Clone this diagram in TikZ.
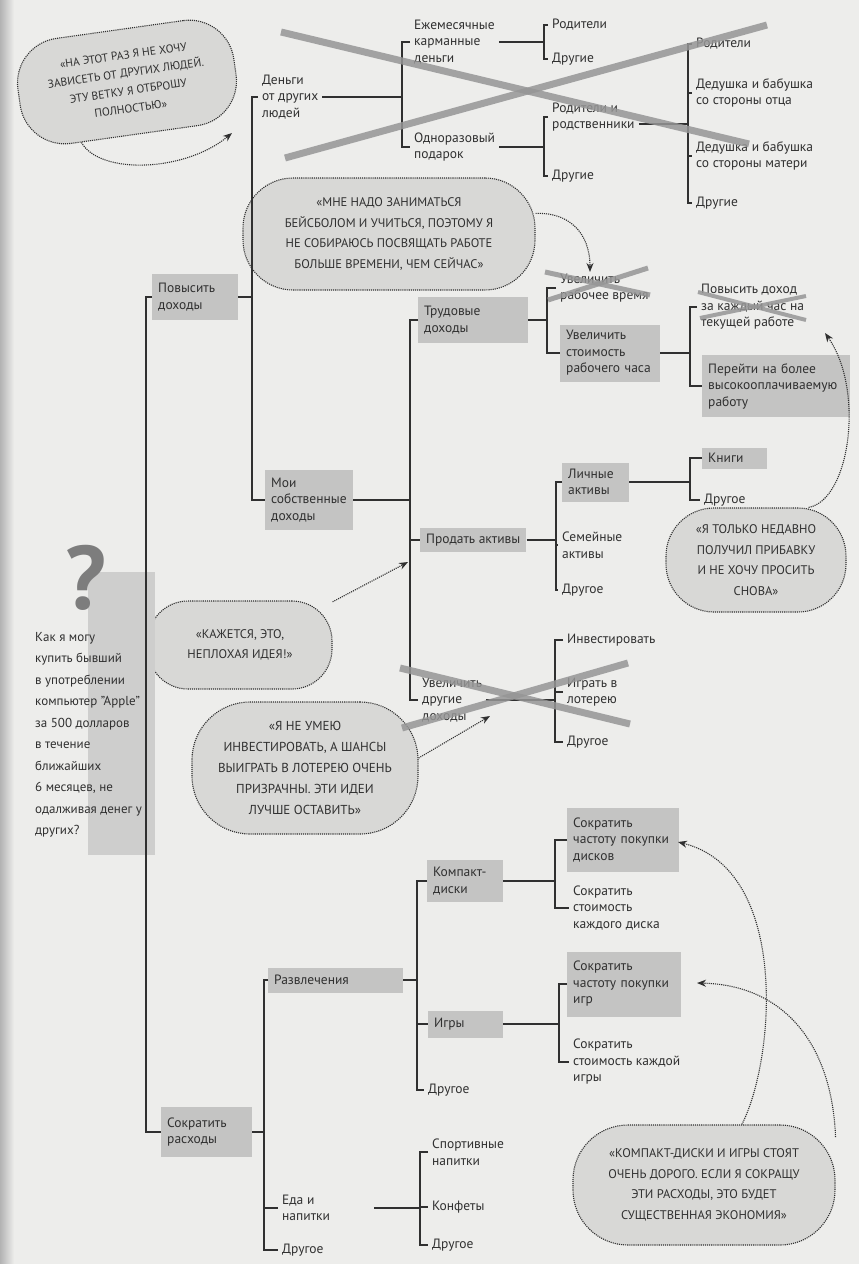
\documentclass[tikz,border=0pt]{standalone}
\usepackage{fontspec}
\setmainfont{PT Sans}
\usetikzlibrary{arrows.meta, calc}

\definecolor{paper}{RGB}{237,237,235}
\definecolor{ink}{RGB}{48,48,48}
\definecolor{boxgray}{RGB}{196,196,195}
\definecolor{bubblegray}{RGB}{216,216,214}
\definecolor{strikegray}{RGB}{150,150,150}
\definecolor{rootgray}{RGB}{206,206,205}
\definecolor{markgray}{RGB}{125,125,125}

\newcommand{\treefont}{\fontsize{13.5}{16.5}\selectfont}
\newcommand{\thoughtfont}{\fontsize{12.5}{20.5}\selectfont}

\begin{document}
\begin{tikzpicture}[x=1pt, y=-1pt,
        leaf/.style={anchor=west, align=left, inner xsep=4pt, inner ysep=2pt, text=ink, font=\treefont},
        branch/.style={leaf, fill=boxgray, inner xsep=6pt, inner ysep=4pt},
        link/.style={draw=ink, line width=1.5pt},
        thought/.style={draw=ink, densely dotted, line width=1.1pt, fill=bubblegray, align=center, text=ink, font=\thoughtfont},
        remark/.style={draw=ink, densely dotted, line width=1.1pt, -{Stealth[length=9pt,width=7pt]}},
        strike/.style={draw=strikegray, line width=7pt, opacity=0.85}
    ]

    % Page
    \useasboundingbox (0,0) rectangle (859,1264);
    \fill[paper] (0,0) rectangle (859,1264);
    \shade[left color=gray!60, right color=paper] (0,0) rectangle (14,1264);

    % Thought bubbles (under the tree)
    \node[thought, rotate=8, minimum width=218pt, minimum height=106pt, rounded corners=45pt, font=\fontsize{11.5}{18}\selectfont] (bubble_alone) at (127,82) {«НА ЭТОТ РАЗ Я НЕ ХОЧУ\\ЗАВИСЕТЬ ОТ ДРУГИХ ЛЮДЕЙ.\\ЭТУ ВЕТКУ Я ОТБРОШУ\\ПОЛНОСТЬЮ»};
    \node[thought, minimum width=292pt, minimum height=112pt, rounded corners=50pt] (bubble_time) at (389,234) {«МНЕ НАДО ЗАНИМАТЬСЯ\\БЕЙСБОЛОМ И УЧИТЬСЯ, ПОЭТОМУ Я\\НЕ СОБИРАЮСЬ ПОСВЯЩАТЬ РАБОТЕ\\БОЛЬШЕ ВРЕМЕНИ, ЧЕМ СЕЙЧАС»};
    \node[thought, minimum width=180pt, minimum height=104pt, rounded corners=48pt] (bubble_raise) at (756,560) {«Я ТОЛЬКО НЕДАВНО\\ПОЛУЧИЛ ПРИБАВКУ\\И НЕ ХОЧУ ПРОСИТЬ\\СНОВА»};
    \node[thought, minimum width=184pt, minimum height=88pt, rounded corners=40pt] (bubble_idea) at (240,645) {«КАЖЕТСЯ, ЭТО,\\НЕПЛОХАЯ ИДЕЯ!»};
    \node[thought, minimum width=226pt, minimum height=132pt, rounded corners=58pt, font=\fontsize{13}{21}\selectfont] (bubble_invest) at (305,768) {«Я НЕ УМЕЮ\\ИНВЕСТИРОВАТЬ, А ШАНСЫ\\ВЫИГРАТЬ В ЛОТЕРЕЮ ОЧЕНЬ\\ПРИЗРАЧНЫ. ЭТИ ИДЕИ\\ЛУЧШЕ ОСТАВИТЬ»};
    \node[thought, minimum width=262pt, minimum height=120pt, rounded corners=55pt] (bubble_save) at (704,1185) {«КОМПАКТ-ДИСКИ И ИГРЫ СТОЯТ\\ОЧЕНЬ ДОРОГО. ЕСЛИ Я СОКРАЩУ\\ЭТИ РАСХОДЫ, ЭТО БУДЕТ\\СУЩЕСТВЕННАЯ ЭКОНОМИЯ»};

    % Spines of the brackets
    \coordinate (trunk) at (146,0);
    \coordinate (sp_raise) at (252,0);
    \coordinate (sp_other) at (402,0);
    \coordinate (sp_monthly) at (544,0);
    \coordinate (sp_relatives) at (688,0);
    \coordinate (sp_own) at (410,0);
    \coordinate (sp_labour) at (547,0);
    \coordinate (sp_rate) at (690,0);
    \coordinate (sp_sell) at (556,0);
    \coordinate (sp_personal) at (690,0);
    \coordinate (sp_extra) at (555,0);
    \coordinate (sp_cut) at (264,0);
    \coordinate (sp_fun) at (417,0);
    \coordinate (sp_cds) at (555,0);
    \coordinate (sp_games) at (559,0);
    \coordinate (sp_food) at (420,0);

    % Root: the question
    \fill[rootgray] (88,572) rectangle (155,855);
    \node[font=\fontsize{90}{90}\selectfont\bfseries, text=markgray, inner sep=0pt] (question_mark) at (86,578) {?};
    \node[leaf, font=\fontsize{13}{21.5}\selectfont] (question) at (31,735) {Как я могу\\купить бывший\\в употреблении\\компьютер "Apple"\\за 500 долларов\\в течение\\ближайших\\6 месяцев, не\\одалживая денег у\\других?};

    % Level 1
    \node[branch, text width=74pt, minimum height=46pt] (raise_income) at (152,297) {Повысить\\доходы};
    \node[branch, text width=79pt, minimum height=50pt] (cut_costs) at (161,1132) {Сократить\\расходы};
    \draw[link] (raise_income.west) -| (trunk |- cut_costs.west) -- (cut_costs.west);

    % Branch 1: money from other people
    \node[leaf] (other_people) at (258,97) {Деньги\\от других\\людей};
    \node[branch, text width=76pt, minimum height=60pt] (own_income) at (265,500) {Мои\\собственные\\доходы};
    \draw[link] (raise_income.east) -- (raise_income.east -| sp_raise);
    \draw[link] (other_people.west) -| (sp_raise |- own_income.west) -- (own_income.west);

    \node[leaf] (monthly_money) at (410,42) {Ежемесячные\\карманные\\деньги};
    \node[leaf] (one_gift) at (410,147) {Одноразовый\\подарок};
    \draw[link] (other_people.east) -- (other_people.east -| sp_other);
    \draw[link] (monthly_money.west) -| (sp_other |- one_gift.west) -- (one_gift.west);

    \node[leaf] (parents_a) at (548,25) {Родители};
    \node[leaf] (others_a) at (548,59) {Другие};
    \node[leaf] (relatives) at (548,117) {Родители и\\родственники};
    \node[leaf] (others_b) at (548,176) {Другие};
    \draw[link] (monthly_money.east) -- (monthly_money.east -| sp_monthly);
    \draw[link] (parents_a.west) -| (sp_monthly |- others_a.west) -- (others_a.west);
    \draw[link] (one_gift.east) -- (one_gift.east -| sp_monthly);
    \draw[link] (relatives.west) -| (sp_monthly |- others_b.west) -- (others_b.west);

    \node[leaf] (parents_b) at (692,44) {Родители};
    \node[leaf] (grand_father) at (692,93) {Дедушка и бабушка\\со стороны отца};
    \node[leaf] (grand_mother) at (692,156) {Дедушка и бабушка\\со стороны матери};
    \node[leaf] (others_c) at (692,203) {Другие};
    \coordinate (relatives_out) at ([yshift=-7pt]relatives.east);
    \draw[link] (relatives_out) -- (relatives_out -| sp_relatives);
    \draw[link] (parents_b.west) -| (sp_relatives |- others_c.west) -- (others_c.west);
    \draw[link] (sp_relatives |- grand_father.west) -- (grand_father.west);
    \draw[link] (sp_relatives |- grand_mother.west) -- (grand_mother.west);

    % Branch 2: own income
    \node[branch, text width=98pt, minimum height=46pt] (labour_income) at (418,320) {Трудовые\\доходы};
    \node[branch, minimum height=24pt] (sell_assets) at (420,540) {Продать активы};
    \node[leaf] (extra_income) at (418,700) {Увеличить\\другие\\доходы};
    \draw[link] (own_income.east) -- (own_income.east -| sp_own);
    \draw[link] (labour_income.west) -| (sp_own |- extra_income.west) -- (extra_income.west);
    \draw[link] (sp_own |- sell_assets.west) -- (sell_assets.west);

    \node[leaf] (more_hours) at (556,288) {Увеличить\\рабочее время};
    \node[branch, text width=88pt, minimum height=57pt] (hour_rate) at (560,353) {Увеличить\\стоимость\\рабочего часа};
    \draw[link] (labour_income.east) -- (labour_income.east -| sp_labour);
    \draw[link] (more_hours.west) -| (sp_labour |- hour_rate.west) -- (hour_rate.west);

    \node[leaf] (raise_pay) at (697,307) {Повысить доход\\за каждый час на\\текущей работе};
    \node[branch, text width=136pt, minimum height=62pt] (better_job) at (702,386) {Перейти на более\\высокооплачиваемую\\работу};
    \draw[link] (hour_rate.east) -- (hour_rate.east -| sp_rate);
    \draw[link] (raise_pay.west) -| (sp_rate |- better_job.west) -- (better_job.west);

    \node[branch, text width=55pt, minimum height=39pt] (personal_assets) at (562,482) {Личные\\активы};
    \node[leaf] (family_assets) at (558,545) {Семейные\\активы};
    \node[leaf] (other_assets) at (558,590) {Другое};
    \draw[link] (sell_assets.east) -- (sell_assets.east -| sp_sell);
    \draw[link] (personal_assets.west) -| (sp_sell |- other_assets.west) -- (other_assets.west);
    \draw[link] (sp_sell |- family_assets.west) -- (family_assets.west);

    \node[branch, text width=53pt, minimum height=21pt] (books) at (702,458) {Книги};
    \node[leaf] (other_personal) at (700,500) {Другое};
    \draw[link] (personal_assets.east) -- (personal_assets.east -| sp_personal);
    \draw[link] (books.west) -| (sp_personal |- other_personal.west) -- (other_personal.west);

    \node[leaf] (invest) at (563,640) {Инвестировать};
    \node[leaf] (lottery) at (563,692) {Играть в\\лотерею};
    \node[leaf] (other_extra) at (563,742) {Другое};
    \draw[link] (extra_income.east) -- (extra_income.east -| sp_extra);
    \draw[link] (invest.west) -| (sp_extra |- other_extra.west) -- (other_extra.west);
    \draw[link] (sp_extra |- lottery.west) -- (lottery.west);

    % Branch 3: cut costs
    \node[branch, text width=123pt, minimum height=25pt] (fun) at (268,980) {Развлечения};
    \node[leaf] (food) at (278,1208) {Еда и\\напитки};
    \node[leaf] (other_costs) at (278,1250) {Другое};
    \draw[link] (cut_costs.east) -- (cut_costs.east -| sp_cut);
    \draw[link] (fun.west) -| (sp_cut |- other_costs.west) -- (other_costs.west);
    \draw[link] (sp_cut |- food.west) -- (food.west);

    \node[branch, text width=64pt, minimum height=42pt] (compact_discs) at (427,881) {Компакт-\\диски};
    \node[branch, text width=63pt, minimum height=27pt] (games) at (428,1024) {Игры};
    \node[leaf] (other_fun) at (424,1090) {Другое};
    \draw[link] (fun.east) -- (fun.east -| sp_fun);
    \draw[link] (compact_discs.west) -| (sp_fun |- other_fun.west) -- (other_fun.west);
    \draw[link] (sp_fun |- games.west) -- (games.west);

    \node[branch, text width=100pt, minimum height=64pt] (disc_freq) at (567,840) {Сократить\\частоту покупки\\дисков};
    \node[leaf] (disc_cost) at (569,908) {Сократить\\стоимость\\каждого диска};
    \draw[link] (compact_discs.east) -- (compact_discs.east -| sp_cds);
    \draw[link] (disc_freq.west) -| (sp_cds |- disc_cost.west) -- (disc_cost.west);

    \node[branch, text width=102pt, minimum height=65pt] (game_freq) at (567,984) {Сократить\\частоту покупки\\игр};
    \node[leaf] (game_cost) at (569,1062) {Сократить\\стоимость каждой\\игры};
    \draw[link] (games.east) -- (games.east -| sp_games);
    \draw[link] (game_freq.west) -| (sp_games |- game_cost.west) -- (game_cost.west);

    \node[leaf] (sport_drinks) at (428,1152) {Спортивные\\напитки};
    \node[leaf] (candy) at (428,1207) {Конфеты};
    \node[leaf] (other_food) at (428,1245) {Другое};
    \coordinate (food_out) at ([xshift=40pt]food.east);
    \draw[link] (food_out) -- (food_out -| sp_food);
    \draw[link] (sport_drinks.west) -| (sp_food |- other_food.west) -- (other_food.west);
    \draw[link] (sp_food |- candy.west) -- (candy.west);

    % Rejected branches
    \draw[strike] (281,32) -- (749,144);
    \draw[strike] (285,158) -- (767,25);
    \draw[strike, line width=5pt] (545,272) -- (650,295);
    \draw[strike, line width=5pt] (548,300) -- (648,268);
    \draw[strike, line width=4pt] (698,292) -- (806,320);
    \draw[strike, line width=4pt] (700,318) -- (806,296);
    \draw[strike] (400,668) -- (630,724);
    \draw[strike] (402,728) -- (628,663);

    % Remarks pointing at the tree
    \coordinate (tip_alone) at (232,133);
    \coordinate (tip_time) at (590,272);
    \coordinate (tip_raise) at (825,333);
    \coordinate (tip_idea) at (408,562);
    \coordinate (tip_invest) at (490,716);
    \coordinate (tip_disc) at (678,842);
    \coordinate (tip_game) at (697,983);
    \draw[remark] (bubble_alone.225) .. controls (100,175) and (185,172) .. (tip_alone);
    \draw[remark] (bubble_time.8) .. controls (568,212) and (590,232) .. (tip_time);
    \draw[remark] (bubble_raise.45) .. controls (850,500) and (865,390) .. (tip_raise);
    \draw[remark] (bubble_idea.25) -- (tip_idea);
    \draw[remark] (bubble_invest.5) -- (tip_invest);
    \draw[remark] (bubble_save.58) .. controls (775,1060) and (790,870) .. (tip_disc);
    \draw[remark] (bubble_save.20) .. controls (832,1045) and (785,985) .. (tip_game);

\end{tikzpicture}
\end{document}
